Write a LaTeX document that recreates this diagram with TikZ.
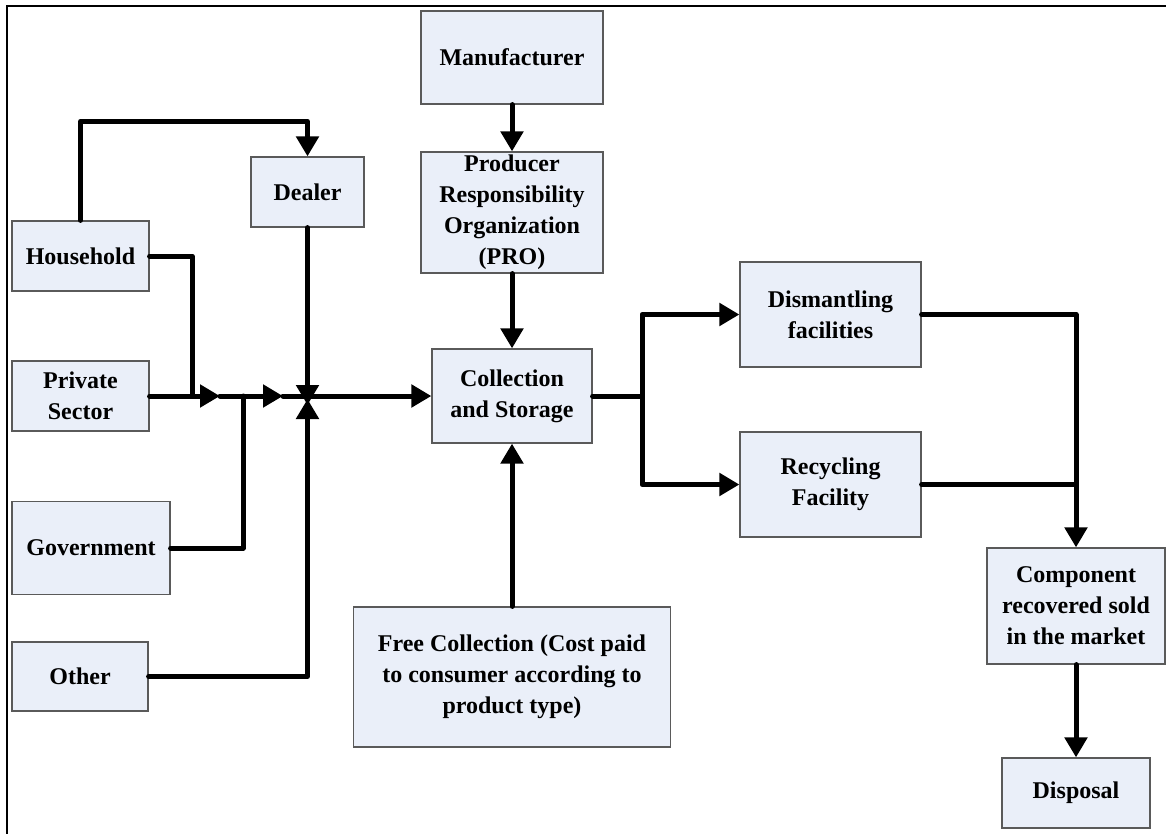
\documentclass[tikz,border=0pt]{standalone}
\usepackage{fontspec}
\setmainfont{Liberation Serif}
\definecolor{boxfill}{RGB}{234,239,249}
\definecolor{boxline}{RGB}{90,90,90}
\usetikzlibrary{arrows.meta}
\usetikzlibrary{positioning}
\usetikzlibrary{calc}

\begin{document}
\begin{tikzpicture}[x=1pt, y=-1pt,
        box/.style={draw=boxline, line width=1.2pt, fill=boxfill, align=center, inner sep=2pt, font=\bfseries\fontsize{24}{31}\selectfont},
        flow/.style={line width=5pt, line cap=round, line join=round},
        >={Triangle[length=20pt, width=22pt]}]
        \useasboundingbox (0,0) rectangle (1166,833);

        % Frame
        \draw[line width=2pt] (7,860) -- (7,6) -- (1190,6);

        % Sources
        \node[box, minimum width=137pt, minimum height=70pt] (house) at (80.5,256) {Household};
        \node[box, minimum width=137pt, minimum height=70pt] (private) at (80.5,396) {Private\\Sector};
        \node[box, minimum width=158pt, minimum height=93pt] (gov) at (91,548) {Government};
        \node[box, minimum width=136pt, minimum height=69pt] (other) at (80,676.5) {Other};
        \node[box, minimum width=113pt, minimum height=70pt] (dealer) at (307.5,192) {Dealer};

        % Middle column
        \node[box, minimum width=182pt, minimum height=93pt] (manuf) at (512,57.5) {Manufacturer};
        \node[box, minimum width=182pt, minimum height=121pt] (pro) at (512,212.5) {Producer\\Responsibility\\Organization\\(PRO)};
        \node[box, minimum width=160pt, minimum height=94pt] (coll) at (512,396) {Collection\\and Storage};
        \node[box, minimum width=317pt, minimum height=140pt] (free) at (512,677) {Free Collection (Cost paid\\to consumer according to\\product type)};

        % Treatment
        \node[box, minimum width=181pt, minimum height=105pt] (dism) at (830.5,314.5) {Dismantling\\facilities};
        \node[box, minimum width=181pt, minimum height=105pt] (recyc) at (830.5,484.5) {Recycling\\Facility};
        \node[box, minimum width=178pt, minimum height=116pt] (comp) at (1076,606) {Component\\recovered sold\\in the market};
        \node[box, minimum width=148pt, minimum height=70pt] (disp) at (1076,793) {Disposal};

        % Junctions
        \coordinate (j1) at (192,396);
        \coordinate (j2) at (243,396);
        \coordinate (j3) at (307.5,396);
        \coordinate (a1) at (220,396);
        \coordinate (a2) at (283,396);
        \coordinate (b1) at (642,396);

        % Collection flows
        \draw[flow, ->] (house.north) |- ($(dealer.north)+(0,-35)$) -- (dealer.north);
        \draw[flow] (house.east) -| (j1);
        \draw[flow] (gov.east) -| (j2);
        \draw[flow, ->] (private.east) -- (a1);
        \draw[flow, ->] (a1) -- (a2);
        \draw[flow] (a2) -- (j3);
        \draw[flow, ->] (dealer.south) -- ($(j3)+(0,9)$);
        \draw[flow, ->] (other.east) -| ($(j3)+(0,3)$);
        \draw[flow, ->] (j3) -- (coll.west);

        % Arrows
        \draw[flow, ->] (manuf.south) -- (pro.north);
        \draw[flow, ->] (pro.south) -- (coll.north);
        \draw[flow, ->] (free.north) -- (coll.south);
        \draw[flow] (coll.east) -- (b1);
        \draw[flow, ->] (b1) |- (dism.west);
        \draw[flow, ->] (b1) |- (recyc.west);
        \draw[flow, ->] (dism.east) -| (comp.north);
        \draw[flow] (recyc.east) -- (recyc.east -| comp.north);
        \draw[flow, ->] (comp.south) -- (disp.north);

    \end{tikzpicture}
\end{document}
